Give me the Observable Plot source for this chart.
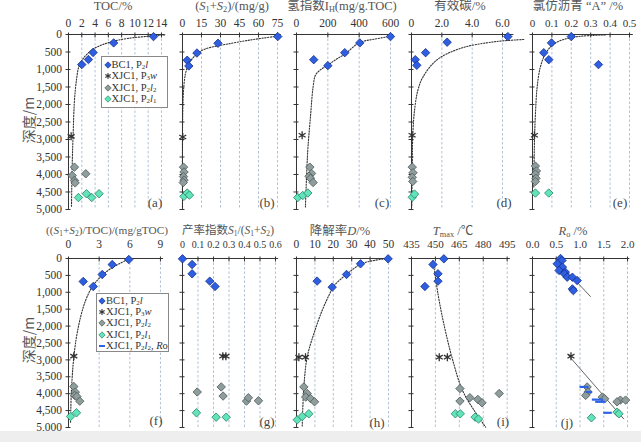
<!DOCTYPE html>
<html><head><meta charset="utf-8">
<script src="https://cdn.jsdelivr.net/npm/d3@7"></script>
<script src="https://cdn.jsdelivr.net/npm/@observablehq/plot@0.6"></script>
<style>
html,body{margin:0;padding:0;background:#fff;}
#root{position:relative;width:641px;height:442px;overflow:hidden;background:#fff;font-family:"Liberation Serif","Times New Roman","Noto Sans CJK SC",serif;color:#3a3a3a;}
.ttl{position:absolute;white-space:nowrap;font-size:12.5px;color:#555;transform:translate(-50%,-50%);line-height:1;}
sub{font-size:0.66em;vertical-align:-0.22em;line-height:0;}
.plab{position:absolute;font-size:13px;transform:translate(-50%,-50%);color:#444;line-height:1;}
.ylab{position:absolute;font-family:"Noto Sans CJK SC",sans-serif;font-size:14px;color:#555;transform:translate(-50%,-50%) rotate(-90deg);white-space:nowrap;line-height:1;}
.leg{position:absolute;border:1px solid #888;background:#fff;font-size:10.5px;color:#333;box-sizing:border-box;}
.leg .row{position:absolute;white-space:nowrap;line-height:1;transform:translateY(-50%);}
.leg svg{position:absolute;overflow:visible;}
.band{position:absolute;left:0;top:431px;width:641px;height:11px;background:#eeeeee;}
</style></head><body><div id="root"></div>
<script>
// ---------- shared ----------
const depthTicks = [0,500,1000,1500,2000,2500,3000,3500,4000,4500,5000];

// ---------- (a) TOC/% : [value, depth] ----------
const a_BC1  = [[12.8,60],[6.8,240],[3.7,515],[3.0,715],[2.0,860]];
const a_P3w  = [[0.4,2910]];
const a_P2l2 = [[0.9,3790],[2.6,3980],[0.55,4030],[0.9,4170],[1.0,4240]];
const a_P2l1 = [[1.5,4660],[2.7,4550],[3.5,4660],[4.6,4550]];
const a_fit  = [[14.5,10],[12,50],[9,110],[6.8,190],[5,300],[3.6,430],[2.2,690],[1.55,925],[1.2,1300],[0.9,1880],[0.7,2830],[0.55,3785],[0.45,4930]];

// ---------- (b) (S1+S2) mg/g ----------
const b_BC1  = [[75.2,60],[28,250],[11.4,530],[3.7,735],[5,900]];
const b_P3w  = [[0.2,2930]];
const b_P2l2 = [[0.8,3790],[1.2,3930],[0.8,4060],[1.2,4160],[0.6,4230]];
const b_P2l1 = [[1.1,4625],[3.7,4530],[5.5,4590]];
const b_fit  = [[74.7,49],[56,143],[38,257],[16.8,430],[10.3,592],[5,830],[2.4,1115],[1,1500],[0.3,2070],[0,2830],[0,4930]];

// ---------- (c) IH mg/g.TOC ----------
const c_BC1  = [[600,60],[404,240],[308,520],[110,720],[200,890]];
const c_P3w  = [[36,2880]];
const c_P2l2 = [[85,3790],[96,3970],[80,4050],[89,4110],[106,4230]];
const c_P2l1 = [[8,4660],[40,4600],[72,4530]];
const c_fit  = [[600,55],[500,130],[400,235],[313,545],[250,720],[196,890],[150,1020],[121,1165],[106,1500],[89,2360],[72,3310],[57,4930]];

// ---------- (d) 有效碳/% ----------
const d_BC1  = [[6.35,60],[2.35,220],[0.93,520],[0.25,720],[0.35,880]];
const d_P3w  = [[0.04,2880]];
const d_P2l2 = [[0.05,3790],[0.1,3950],[0.05,4080],[0.08,4200]];
const d_P2l1 = [[0.05,4650],[0.2,4560]];
const d_fit  = [[7.4,143],[5.4,211],[3.2,400],[1.65,735],[0.76,1212],[0.42,1593],[0.2,2165],[0.09,2830],[0.05,3785],[0.02,4930]];

// ---------- (e) 氯仿沥青"A"/% ----------
const e_BC1  = [[0.2,60],[0.098,240],[0.058,520],[0.084,720],[0.34,860]];
const e_P3w  = [[0.01,2880]];
const e_P2l2 = [[0.015,3760],[0.02,3900],[0.015,3990],[0.018,4110],[0.015,4200]];
const e_P2l1 = [[0.015,4530],[0.084,4530]];
const e_fit  = [[0.376,10],[0.2,87],[0.11,270],[0.067,550],[0.041,920],[0.024,1500],[0.016,2170],[0.0103,3020],[0.007,4360]];

// ---------- (f) (S1+S2)/TOC ----------
const f_BC1  = [[5.9,30],[4.28,180],[3.3,475],[1.44,680],[2.42,830]];
const f_P3w  = [[0.52,2890]];
const f_P2l2 = [[0.52,3790],[0.67,3955],[0.6,4050],[0.82,4083],[1.1,4221]];
const f_P2l1 = [[0.2,4675],[0.78,4565]];
const f_fit  = [[6.0,0],[4.1,305],[3.1,553],[2.3,850],[1.67,1243],[1.18,1736],[0.78,2327],[0.52,2920],[0.36,3512],[0.26,4103],[0.2,4882]];

// ---------- (g) 产率指数 ----------
const g_BC1  = [[0.0,10],[0.062,178],[0.062,453],[0.176,670],[0.21,828]];
const g_P3w  = [[0.26,2890],[0.28,2890]];
const g_P2l2 = [[0.095,3950],[0.25,3800],[0.262,4070],[0.413,4220],[0.425,4120],[0.49,4210]];
const g_P2l1 = [[0.09,4565],[0.217,4695],[0.282,4695]];

// ---------- (h) 降解率D/% ----------
const h_BC1  = [[49.8,10],[34.8,157],[27.2,473],[11.2,670],[19.4,848]];
const h_P3w  = [[1.3,2920],[4.9,2920]];
const h_P2l2 = [[4,3800],[5.8,3995],[5,4100],[7.6,4142],[9.8,4240]];
const h_P2l1 = [[0.4,4773],[3.1,4675],[6.7,4595]];
const h_fit  = [[50,0],[42,60],[35,165],[27.2,470],[20.5,800],[18,1050],[14,1530],[9.4,2230],[5.8,2920],[4,3800],[3.1,4990]];

// ---------- (i) Tmax/℃ ----------
const i_BC1  = [[455.3,10],[448.5,178],[451.6,453],[451.6,670],[443.4,828]];
const i_P3w  = [[452.4,2920],[457.5,2920]];
const i_P2l2 = [[465.4,3850],[490,3995],[471.6,4118],[476.6,4170],[465.4,4220],[479.2,4270]];
const i_P2l1 = [[462.5,4595],[465.6,4595],[474.9,4695],[477,4750]];
const i_fit  = [[448.5,60],[451.6,1045],[455.7,2030],[460.9,3018],[467,3905],[474.3,4497],[481.5,4990]];

// ---------- (j) Ro/% ----------
const j_BC1  = [[0.59,0],[0.62,60],[0.52,157],[0.63,255],[0.56,354],[0.69,403],[0.67,453],[0.73,553],[0.84,553],[0.94,652],[0.84,900],[0.86,950]];
const j_P3w  = [[0.81,2890]];
const j_P2l2 = [[1.15,3800],[1.17,3950],[1.12,4050],[1.47,4100],[1.52,4150],[1.85,4190],[1.96,4190],[1.78,4240]];
const j_P2l1 = [[1.24,4713],[1.78,4546],[1.82,4595]];
const j_Ro   = [[3800,1.0,1.19],[3950,1.13,1.26],[4175,1.26,1.5],[4240,1.33,1.54],[4565,1.5,1.68]]; // depth, from, to
const j_trendTop = [[0.47,0],[1.22,1125]];
const j_trendBottom = [[0.76,2870],[1.92,4744]];

// ---------- tick labels ----------
const a_ticks = [0,2,4,6,8,10,12,14];
const b_ticks = [0,15,30,45,60,75];
const c_ticks = [0,200,400,600];
const d_ticks = [0,2,4,6];
const e_ticks = [0,0.1,0.2,0.3,0.4,0.5];
const f_ticks = [0,3,6,9];
const g_ticks = [0,0.1,0.2,0.3,0.4,0.5,0.6];
const h_ticks = [0,10,20,30,40,50];
const i_ticks = [435,450,465,480,495];
const j_ticks = [0,0.5,1.0,1.5,2.0];

// ---------- styles ----------
const S = {
  BC1:  {symbol:"diamond2", fill:"#2d5fe0", stroke:"#16308f"},
  P2l2: {symbol:"diamond2", fill:"#8f9d9d", stroke:"#4b5858"},
  P2l1: {symbol:"diamond2", fill:"#62e4bb", stroke:"#2b8266"},
  P3w:  {symbol:"asterisk", fill:"none", stroke:"#333"}
};
const rows = [{top:34.3, bottom:209.3, pad:7.5}, {top:258.3, bottom:427.3, pad:10.5}];
const fx1 = d => d===0 ? "0" : d.toFixed(1);

const panels = [
  {row:0, x0:68,  x1:68+14.5*6.643, domain:[0,14.5], ticks:a_ticks, fmt:d=>d, s:[a_P2l1,a_P2l2,a_P3w,a_BC1], fit:a_fit, yLabels:true},
  {row:0, x0:182, x1:182+78*1.2667, domain:[0,78], ticks:b_ticks, fmt:d=>d, s:[b_P2l1,b_P2l2,b_P3w,b_BC1], fit:b_fit},
  {row:0, x0:296, x1:296+620*0.1567, domain:[0,620], ticks:c_ticks, fmt:d=>d, s:[c_P2l1,c_P2l2,c_P3w,c_BC1], fit:c_fit},
  {row:0, x0:411, x1:411+7.6*15.17, domain:[0,7.6], axisEnd:6.75, ticks:d_ticks, fmt:fx1, s:[d_P2l1,d_P2l2,d_P3w,d_BC1], fit:d_fit},
  {row:0, x0:532, x1:532+0.52*194, domain:[0,0.52], ticks:e_ticks, fmt:fx1, s:[e_P2l1,e_P2l2,e_P3w,e_BC1], fit:e_fit, fs:11},
  {row:1, x0:68,  x1:68+9.3*10.22, domain:[0,9.3], ticks:f_ticks, fmt:d=>d, s:[f_P2l1,f_P2l2,f_P3w,f_BC1], fit:f_fit, yLabels:true},
  {row:1, x0:182, x1:182+0.62*155, domain:[0,0.62], ticks:g_ticks, fmt:fx1, s:[g_P2l1,g_P2l2,g_P3w,g_BC1], fs:10},
  {row:1, x0:296, x1:296+51*1.84, domain:[0,51], ticks:h_ticks, fmt:d=>d, s:[h_P2l1,h_P2l2,h_P3w,h_BC1], fit:h_fit},
  {row:1, x0:411, x1:411+62*1.595, domain:[435,497], ticks:i_ticks, fmt:d=>d, s:[i_P2l1,i_P2l2,i_P3w,i_BC1], fit:i_fit, fs:11},
  {row:1, x0:532, x1:532+2.05*47.5, domain:[0,2.05], ticks:j_ticks, fmt:d=>d.toFixed(1), s:[j_P2l1,j_P2l2,j_P3w,j_BC1], j:true, fs:11}
];
const order = ["P2l1","P2l2","P3w","BC1"];

const root = document.getElementById("root");

panels.forEach(p => {
  const row = rows[p.row];
  const ML=44, MR=4, MT=34, MB=6;
  const width = ML + (p.x1 - p.x0) + MR;
  const height = MT + (row.bottom - row.top) + MB;
  const marks = [
    Plot.ruleX(p.ticks.filter(t => t !== p.domain[0]), {y1:0, y2:5000, stroke:"#a7bbd0", strokeWidth:0.9, strokeDasharray:"2.5,2"}),
    Plot.ruleY([0], {x1:p.domain[0], x2:(p.axisEnd ?? p.domain[1]), stroke:"#333", strokeWidth:1}),
    Plot.ruleX([p.domain[0]], {y1:0, y2:5000, stroke:"#333", strokeWidth:1}),
    Plot.axisY(depthTicks, {anchor:"left", tickSize:5, dx:2.5, tickFormat:() => "", label:null, stroke:"#333"}),
    Plot.axisX(p.ticks, {anchor:"top", tickSize:5, dy:2.5, tickFormat:() => "", label:null, stroke:"#333"}),
    Plot.axisX(p.ticks, {anchor:"top", tickSize:0, tickPadding:row.pad, tickFormat:p.fmt, label:null, fontSize:(p.fs ?? 11.5)})
  ];
  if (p.yLabels) marks.push(Plot.axisY(depthTicks, {anchor:"left", tickSize:0, tickPadding:6.5, label:null, fontSize:11.5}));
  if (p.fit) marks.push(Plot.line(p.fit, {x:d=>d[0], y:d=>d[1], curve:"catmull-rom", stroke:"#333", strokeWidth:1.1, strokeDasharray:"1.3,1.5"}));
  if (p.j) {
    marks.push(Plot.line(j_trendTop, {x:d=>d[0], y:d=>d[1], stroke:"#666", strokeWidth:1}));
    marks.push(Plot.line(j_trendBottom, {x:d=>d[0], y:d=>d[1], stroke:"#666", strokeWidth:1}));
  }
  p.s.forEach((data, k) => {
    const st = S[order[k]];
    marks.push(Plot.dot(data, {x:d=>d[0], y:d=>d[1], symbol:st.symbol, r:3.8, fill:st.fill, stroke:st.stroke,
      strokeWidth: order[k]==="P3w" ? 1.3 : 0.8}));
  });
  if (p.j) marks.push(Plot.ruleY(j_Ro, {y:d=>d[0], x1:d=>d[1], x2:d=>d[2], stroke:"#2f63e6", strokeWidth:2.2}));

  const chart = Plot.plot({
    width, height, marginLeft:ML, marginRight:MR, marginTop:MT, marginBottom:MB,
    style:{background:"transparent", overflow:"visible", fontFamily:'"Liberation Serif","Times New Roman",serif', fontSize:"12px", color:"#333"},
    x:{domain:p.domain},
    y:{domain:[0,5000], reverse:true},
    marks
  });
  chart.style.position = "absolute";
  chart.style.left = (p.x0 - ML) + "px";
  chart.style.top = (row.top - MT) + "px";
  chart.style.maxWidth = "none";
  root.appendChild(chart);
});

// ---------- titles ----------
const titles = [
  ["TOC/%", 113, 6, 12.5],
  ["(<i>S</i><sub>1</sub>+<i>S</i><sub>2</sub>)/(mg/g)", 232, 6, 12.5],
  ["氢指数I<sub>H</sub>(mg/g.TOC)", 342, 6, 12.5],
  ["有效碳/%", 460, 6, 12.5],
  ["氯仿沥青 “A” /%", 578, 6, 12.5],
  ["((<i>S</i><sub>1</sub>+<i>S</i><sub>2</sub>)/TOC)/(mg/gTOC)", 107, 231, 11.3],
  ["产率指数<i>S</i><sub>1</sub>/(<i>S</i><sub>1</sub>+<i>S</i><sub>2</sub>)", 228, 231, 11.5],
  ["降解率<i>D</i>/%", 340, 231, 12.5],
  ["<i>T</i><sub>max</sub> /℃", 453, 231, 12.5],
  ["<i>R</i><sub>o</sub> /%", 573, 231, 12.5]
];
titles.forEach(([h,x,y,fs]) => {
  const el = document.createElement("div");
  el.className = "ttl"; el.innerHTML = h;
  el.style.left = x+"px"; el.style.top = y+"px"; el.style.fontSize = fs+"px";
  root.appendChild(el);
});
const plabs = [["(a)",155,202],["(b)",267,202],["(c)",382,202],["(d)",504,202],["(e)",620,202],
               ["(f)",156,420],["(g)",267,421],["(h)",377,422],["(i)",503,421],["(j)",567,422]];
plabs.forEach(([t,x,y]) => {
  const el = document.createElement("div");
  el.className = "plab"; el.textContent = t;
  el.style.left = x+"px"; el.style.top = y+"px";
  root.appendChild(el);
});
[[28,120],[28,340]].forEach(([x,y]) => {
  const el = document.createElement("div");
  el.className = "ylab"; el.textContent = "深度/m";
  el.style.left = x+"px"; el.style.top = y+"px";
  root.appendChild(el);
});

// ---------- legends ----------
const legendItems = [
  ["BC1", "BC1, P<sub>2</sub><i>l</i>"],
  ["P3w", "XJC1, P<sub>3</sub><i>w</i>"],
  ["P2l2", "XJC1, P<sub>2</sub><i>l</i><sub>2</sub>"],
  ["P2l1", "XJC1, P<sub>2</sub><i>l</i><sub>1</sub>"],
  ["Ro", "XJC1, P<sub>2</sub><i>l</i><sub>2</sub>, <i>R</i>o"]
];
function legend(left, top, w, h, rowsY, mx, tx, n) {
  const box = document.createElement("div");
  box.className = "leg";
  Object.assign(box.style, {left:left+"px", top:top+"px", width:w+"px", height:h+"px"});
  legendItems.slice(0,n).forEach(([k,html], i) => {
    const y = rowsY[i] - top;
    const sv = d3.create("svg").attr("width",10).attr("height",10)
      .style("left",(mx-left-5)+"px").style("top",(y-5)+"px");
    if (k === "Ro") {
      sv.append("line").attr("x1",2).attr("x2",8).attr("y1",5).attr("y2",5).attr("stroke","#2f63e6").attr("stroke-width",2);
    } else {
      const st = S[k];
      const type = k === "P3w" ? d3.symbolAsterisk : d3.symbolDiamond2;
      sv.append("path").attr("transform","translate(5,5)")
        .attr("d", d3.symbol(type, 26)())
        .attr("fill", st.fill).attr("stroke", st.stroke).attr("stroke-width", k==="P3w"?1.1:0.7);
    }
    box.appendChild(sv.node());
    const r = document.createElement("div");
    r.className = "row"; r.innerHTML = html;
    r.style.left = (tx-left)+"px"; r.style.top = y+"px";
    box.appendChild(r);
  });
  root.appendChild(box);
}
legend(101, 56, 67, 52, [64,75,86.5,97.5], 106.5, 110.5, 4);
legend(96, 292.5, 73, 59, [300,311,322,333.5,344.8], 101, 105, 5);

const band = document.createElement("div");
band.className = "band";
root.appendChild(band);
</script></body></html>
